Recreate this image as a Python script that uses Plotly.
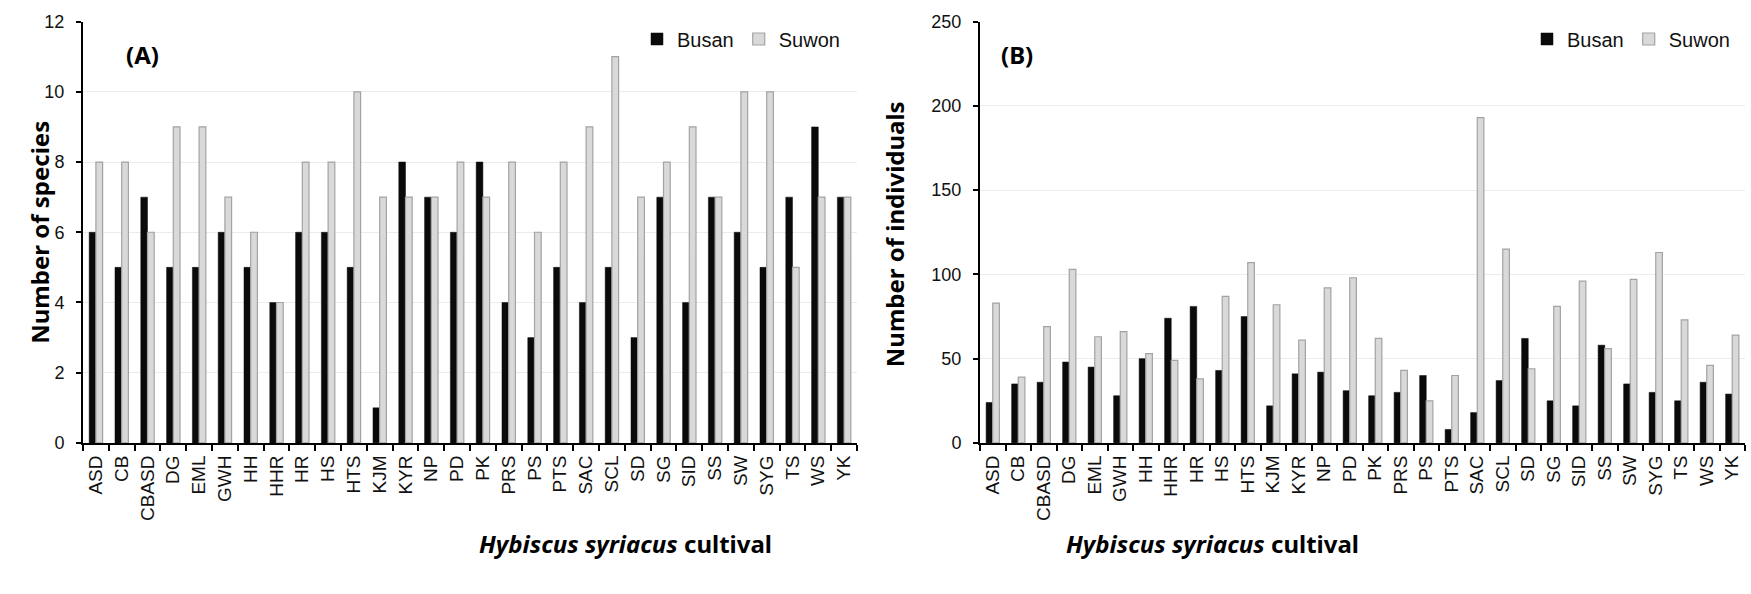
import plotly.graph_objects as go

cultivars = ["ASD", "CB", "CBASD", "DG", "EML", "GWH", "HH", "HHR", "HR", "HS",
             "HTS", "KJM", "KYR", "NP", "PD", "PK", "PRS", "PS", "PTS", "SAC",
             "SCL", "SD", "SG", "SID", "SS", "SW", "SYG", "TS", "WS", "YK"]

species_busan = [6, 5, 7, 5, 5, 6, 5, 4, 6, 6, 5, 1, 8, 7, 6, 8, 4, 3, 5, 4,
                 5, 3, 7, 4, 7, 6, 5, 7, 9, 7]
species_suwon = [8, 8, 6, 9, 9, 7, 6, 4, 8, 8, 10, 7, 7, 7, 8, 7, 8, 6, 8, 9,
                 11, 7, 8, 9, 7, 10, 10, 5, 7, 7]

indiv_busan = [24, 35, 36, 48, 45, 28, 50, 74, 81, 43, 75, 22, 41, 42, 31, 28, 30, 40, 8, 18,
               37, 62, 25, 22, 58, 35, 30, 25, 36, 29]
indiv_suwon = [83, 39, 69, 103, 63, 66, 53, 49, 38, 87, 107, 82, 61, 92, 98, 62, 43, 25, 40, 193,
               115, 44, 81, 96, 56, 97, 113, 73, 46, 64]

species_ticks = [0, 2, 4, 6, 8, 10, 12]
indiv_ticks = [0, 50, 100, 150, 200, 250]

W, H = 1751, 594
def px(x):
    return x / W
def py(y):
    return 1 - y / H

BLACK = "#0a0a0a"
FILL = "#d9d9d9"
EDGE = "#a3a3a3"

fig = go.Figure()

fig.add_trace(go.Bar(x=cultivars, y=species_busan, name="Busan", xaxis="x", yaxis="y",
                     marker=dict(color=BLACK, line=dict(color=BLACK, width=0.5)),
                     legend="legend"))
fig.add_trace(go.Bar(x=cultivars, y=species_suwon, name="Suwon", xaxis="x", yaxis="y",
                     marker=dict(color=FILL, line=dict(color=EDGE, width=1.2)),
                     legend="legend"))
fig.add_trace(go.Bar(x=cultivars, y=indiv_busan, name="Busan", xaxis="x2", yaxis="y2",
                     marker=dict(color=BLACK, line=dict(color=BLACK, width=0.5)),
                     legend="legend2"))
fig.add_trace(go.Bar(x=cultivars, y=indiv_suwon, name="Suwon", xaxis="x2", yaxis="y2",
                     marker=dict(color=FILL, line=dict(color=EDGE, width=1.2)),
                     legend="legend2"))

ydom = [py(448), py(12)]
tickfont = dict(family="Liberation Sans, Arial", size=18, color="#111")
xtickfont = dict(family="Liberation Sans, Arial", size=19, color="#111")

common_x = dict(type="category", tickangle=-90, showline=True, linecolor="black", linewidth=2,
                ticks="outside", ticklen=6, tickwidth=1.5, tickcolor="black",
                tickson="boundaries", showgrid=False, tickfont=xtickfont,
                ticklabelstandoff=3, fixedrange=True)
common_y = dict(showline=True, linecolor="black", linewidth=2, ticks="outside", ticklen=5,
                tickwidth=1.5, tickcolor="black", showgrid=True, gridcolor="#ececec",
                gridwidth=1, zeroline=False, tickfont=tickfont, ticklabelstandoff=8,
                fixedrange=True, ticklabeloverflow="allow")

fig.update_layout(
    width=W, height=H,
    margin=dict(l=0, r=0, t=0, b=0),
    paper_bgcolor="white", plot_bgcolor="white",
    barmode="group", bargap=0.48, bargroupgap=0.0,
    hovermode=False,
    xaxis=dict(domain=[px(83), px(857)], anchor="y", **common_x),
    yaxis=dict(domain=ydom, anchor="x", range=[0, 12], tickvals=species_ticks, **common_y),
    xaxis2=dict(domain=[px(980), px(1745)], anchor="y2", **common_x),
    yaxis2=dict(domain=ydom, anchor="x2", range=[0, 250], tickvals=indiv_ticks, **common_y),
    legend=dict(orientation="h", x=px(845), y=py(30), xanchor="right", yanchor="middle",
                font=dict(family="Liberation Sans, Arial", size=20, color="#111"),
                bgcolor="rgba(0,0,0,0)", itemwidth=30, traceorder="normal"),
    legend2=dict(orientation="h", x=px(1735), y=py(30), xanchor="right", yanchor="middle",
                 font=dict(family="Liberation Sans, Arial", size=20, color="#111"),
                 bgcolor="rgba(0,0,0,0)", itemwidth=30, traceorder="normal"),
    showlegend=True,
)

title_font = dict(family="Noto Sans", size=24, color="black")
annotations = [
    dict(text="<b>(A)</b>", x=px(124), y=py(27), xref="paper", yref="paper",
         showarrow=False, font=dict(family="Noto Sans", size=24, color="black")),
    dict(text="<b>(B)</b>", x=px(1017), y=py(27), xref="paper", yref="paper",
         showarrow=False, font=dict(family="Noto Sans", size=24, color="black")),
    dict(text="<b>Number of species</b>", x=px(21), y=py(230), xref="paper", yref="paper",
         textangle=-90, showarrow=False, font=title_font),
    dict(text="<b>Number of individuals</b>", x=px(894), y=py(232), xref="paper", yref="paper",
         textangle=-90, showarrow=False, font=title_font),
    dict(text="<b><i>Hybiscus syriacus</i> cultival</b>", x=px(477), y=py(571), xref="paper",
         yref="paper", showarrow=False, font=title_font),
    dict(text="<b><i>Hybiscus syriacus</i> cultival</b>", x=px(1361), y=py(571), xref="paper",
         yref="paper", showarrow=False, font=title_font),
]
fig.update_layout(annotations=annotations)

fig.write_html("out.html", config={"displayModeBar": False},
               post_script="document.body.style.margin='0';document.documentElement.style.overflow='hidden';")
